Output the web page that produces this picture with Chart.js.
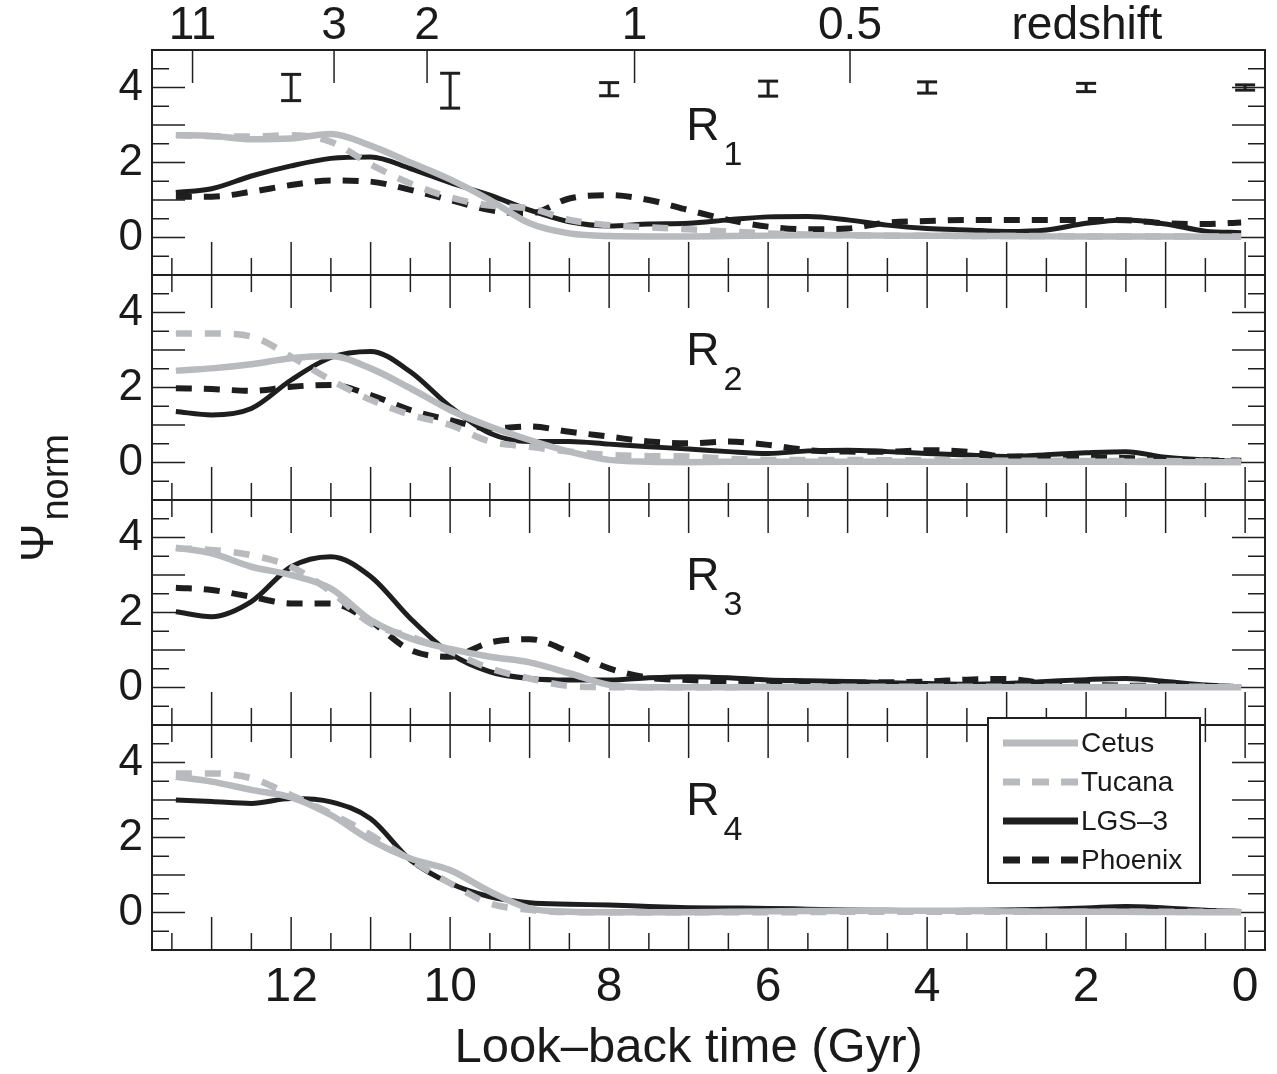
<!DOCTYPE html>
<html>
<head>
<meta charset="utf-8">
<script src="https://cdn.jsdelivr.net/npm/chart.js@4.4.1/dist/chart.umd.min.js"></script>
<style>
  html, body { margin: 0; padding: 0; background: #fff; }
  #wrap { width: 1277px; height: 1074px; }
</style>
</head>
<body>
<div id="wrap"><canvas id="sfh" width="1277" height="1074"></canvas></div>
<script>
// look-back time of each sample (Gyr)
var timeGyr = [13.45, 13, 12.5, 12, 11.5, 11, 10.5, 10, 9.5, 9, 8.5, 8, 7.5, 7,
               6.5, 6, 5.5, 5, 4.5, 4, 3.5, 3, 2.5, 2, 1.5, 1, 0.5, 0.05];

var seriesNames = ['Cetus', 'Tucana', 'LGS\u20133', 'Phoenix'];

// R1
var r1Cetus   = [2.73, 2.71, 2.62, 2.64, 2.76, 2.45, 2.0, 1.55, 1.0, 0.38, 0.11, 0.04, 0.03, 0.03, 0.04, 0.05, 0.06, 0.06, 0.05, 0.05, 0.04, 0.04, 0.03, 0.03, 0.03, 0.03, 0.02, 0.02];
var r1Tucana  = [2.73, 2.7, 2.69, 2.73, 2.55, 1.95, 1.44, 1.07, 0.85, 0.78, 0.47, 0.33, 0.27, 0.22, 0.16, 0.11, 0.08, 0.06, 0.05, 0.05, 0.04, 0.04, 0.04, 0.03, 0.03, 0.03, 0.03, 0.03];
var r1Lgs3    = [1.2, 1.3, 1.64, 1.91, 2.11, 2.15, 1.84, 1.46, 1.13, 0.73, 0.42, 0.31, 0.36, 0.38, 0.47, 0.55, 0.56, 0.47, 0.33, 0.24, 0.2, 0.16, 0.2, 0.38, 0.47, 0.36, 0.17, 0.13];
var r1Phoenix = [1.09, 1.09, 1.22, 1.4, 1.52, 1.49, 1.27, 1.0, 0.73, 0.64, 1.04, 1.13, 1.0, 0.73, 0.47, 0.29, 0.22, 0.24, 0.4, 0.44, 0.47, 0.47, 0.47, 0.47, 0.46, 0.38, 0.36, 0.4];
// R2
var r2Cetus   = [2.45, 2.51, 2.62, 2.78, 2.84, 2.51, 1.98, 1.4, 0.96, 0.6, 0.29, 0.07, 0.02, 0.01, 0.02, 0.02, 0.02, 0.02, 0.02, 0.02, 0.02, 0.02, 0.02, 0.02, 0.02, 0.01, 0.01, 0.01];
var r2Tucana  = [3.44, 3.44, 3.36, 2.82, 2.2, 1.67, 1.27, 1.0, 0.56, 0.42, 0.29, 0.2, 0.17, 0.16, 0.1, 0.07, 0.07, 0.07, 0.06, 0.06, 0.06, 0.05, 0.05, 0.04, 0.04, 0.04, 0.03, 0.03];
var r2Lgs3    = [1.36, 1.27, 1.44, 2.2, 2.8, 2.96, 2.42, 1.49, 0.78, 0.56, 0.56, 0.49, 0.42, 0.36, 0.29, 0.24, 0.31, 0.33, 0.29, 0.24, 0.2, 0.16, 0.21, 0.26, 0.29, 0.14, 0.07, 0.05];
var r2Phoenix = [1.98, 1.96, 1.91, 2.02, 2.07, 1.8, 1.4, 1.13, 0.91, 0.96, 0.82, 0.69, 0.56, 0.51, 0.56, 0.47, 0.33, 0.29, 0.29, 0.33, 0.29, 0.16, 0.16, 0.14, 0.12, 0.09, 0.06, 0.05];
// R3
var r3Cetus   = [3.73, 3.58, 3.22, 3.0, 2.64, 1.8, 1.31, 1.03, 0.82, 0.67, 0.38, 0.07, 0.01, 0.01, 0.01, 0.01, 0.01, 0.01, 0.01, 0.01, 0.01, 0.01, 0.01, 0.01, 0.01, 0.01, 0.01, 0.01];
var r3Tucana  = [3.71, 3.67, 3.53, 3.22, 2.56, 1.71, 1.36, 0.96, 0.51, 0.24, 0.04, 0.01, 0.01, 0.01, 0.01, 0.02, 0.02, 0.02, 0.02, 0.02, 0.02, 0.02, 0.02, 0.02, 0.02, 0.02, 0.02, 0.02];
var r3Lgs3    = [2.02, 1.89, 2.29, 3.22, 3.49, 2.96, 1.84, 0.91, 0.42, 0.24, 0.2, 0.2, 0.26, 0.29, 0.26, 0.2, 0.18, 0.16, 0.13, 0.11, 0.09, 0.11, 0.16, 0.21, 0.24, 0.16, 0.07, 0.02];
var r3Phoenix = [2.66, 2.6, 2.42, 2.24, 2.24, 1.76, 1.0, 0.82, 1.2, 1.29, 0.95, 0.51, 0.26, 0.2, 0.16, 0.14, 0.12, 0.13, 0.14, 0.16, 0.21, 0.23, 0.11, 0.07, 0.05, 0.04, 0.03, 0.02];
// R4 (no Phoenix curve)
var r4Cetus   = [3.62, 3.49, 3.27, 3.07, 2.6, 1.93, 1.44, 1.13, 0.56, 0.11, 0.02, 0.01, 0.01, 0.01, 0.02, 0.03, 0.04, 0.04, 0.05, 0.05, 0.04, 0.03, 0.02, 0.02, 0.02, 0.01, 0.01, 0.01];
var r4Tucana  = [3.71, 3.71, 3.58, 3.13, 2.64, 2.07, 1.4, 0.78, 0.24, 0.07, 0.01, 0.01, 0.01, 0.01, 0.01, 0.01, 0.01, 0.02, 0.02, 0.02, 0.02, 0.02, 0.02, 0.02, 0.02, 0.02, 0.02, 0.02];
var r4Lgs3    = [3.0, 2.96, 2.91, 3.04, 2.95, 2.5, 1.4, 0.78, 0.42, 0.26, 0.22, 0.2, 0.16, 0.13, 0.12, 0.11, 0.09, 0.07, 0.06, 0.05, 0.06, 0.07, 0.09, 0.12, 0.16, 0.12, 0.06, 0.03];

// typical error bars drawn at psi = 4 in the top panel
var errTime = [12, 10, 8, 6, 4, 2, 0];
var errHigh = [4.35, 4.38, 4.13, 4.17, 4.15, 4.11, 4.07];
var errLow  = [3.65, 3.45, 3.78, 3.77, 3.85, 3.89, 3.93];

// tick labels
var timeTickLabels = [12, 10, 8, 6, 4, 2, 0];
var psiTickLabels = [0, 2, 4];
var redshiftLabels = ['11', '3', '2', '1', '0.5'];
var redshiftTimes = [13.24, 11.46, 10.29, 7.68, 4.97];
var redshiftWordTime = 1.99;
var xTitle = 'Look\u2013back time (Gyr)';

var panelAxes = ['y1', 'y2', 'y3', 'y4'];
var panelSubs = ['1', '2', '3', '4'];
var panelSeries = [
  [r1Cetus, r1Tucana, r1Lgs3, r1Phoenix],
  [r2Cetus, r2Tucana, r2Lgs3, r2Phoenix],
  [r3Cetus, r3Tucana, r3Lgs3, r3Phoenix],
  [r4Cetus, r4Tucana, r4Lgs3, null]
];

var fontFamily = '"Liberation Sans", Arial, Helvetica, sans-serif';
var textColor = '#1a1a1a';
var frameColor = '#231f20';
var grey = '#b9babd';
var black = '#1e1e1e';

var seriesStyle = [
  { borderColor: grey,  borderWidth: 6.5, borderDash: [] },
  { borderColor: grey,  borderWidth: 6.5, borderDash: [16, 13] },
  { borderColor: black, borderWidth: 5,   borderDash: [] },
  { borderColor: black, borderWidth: 6,   borderDash: [16, 12] }
];
var legendDash = [[], [17, 12], [], [17, 12]];

Chart.defaults.font.family = fontFamily;
Chart.defaults.color = textColor;

var datasets = [];
panelSeries.forEach(function(list, p) {
  list.forEach(function(vals, i) {
    if (!vals) return;
    datasets.push({
      label: seriesNames[i] + ' R' + panelSubs[p],
      data: timeGyr.map(function(t, k) { return { x: t, y: vals[k] }; }),
      yAxisID: panelAxes[p],
      xAxisID: 'x',
      borderColor: seriesStyle[i].borderColor,
      borderWidth: seriesStyle[i].borderWidth,
      borderDash: seriesStyle[i].borderDash,
      borderCapStyle: 'butt',
      pointRadius: 0,
      fill: false,
      cubicInterpolationMode: 'monotone'
    });
  });
});

function panelAxis(weight) {
  return {
    type: 'linear',
    position: 'left',
    stack: 'panels',
    stackWeight: 1,
    weight: weight,
    min: -1,
    max: 5,
    afterBuildTicks: function(s) { s.ticks = psiTickLabels.map(function(v) { return { value: v }; }); },
    afterFit: function(s) { s.width = 152; },
    grid: { display: false, drawTicks: false },
    border: { display: false },
    ticks: { padding: 9, color: textColor, font: { size: 44, lineHeight: 1 } }
  };
}

function stroke(ctx, x1, y1, x2, y2) {
  ctx.beginPath();
  ctx.moveTo(x1, y1);
  ctx.lineTo(x2, y2);
  ctx.stroke();
}

// panel frames and inward ticks
var framePlugin = {
  id: 'frames',
  beforeDatasetsDraw: function(chart) {
    var ctx = chart.ctx, xs = chart.scales.x, area = chart.chartArea;
    ctx.save();
    ctx.strokeStyle = frameColor;
    panelAxes.forEach(function(id, p) {
      var ys = chart.scales[id];
      ctx.lineWidth = 1.5;
      for (var v = -0.5; v <= 4.5; v += 0.5) {
        var len = v % 1 === 0 ? 33 : 17;
        var py = ys.getPixelForValue(v);
        stroke(ctx, area.left, py, area.left + len, py);
        stroke(ctx, area.right - len, py, area.right, py);
      }
      for (var t = 0; t <= 13.5; t += 0.5) {
        var l2 = t % 1 === 0 ? 33 : 17;
        var px = xs.getPixelForValue(t);
        stroke(ctx, px, ys.bottom, px, ys.bottom - l2);
        if (p > 0) stroke(ctx, px, ys.top, px, ys.top + l2);
      }
      ctx.lineWidth = 2;
      ctx.strokeRect(area.left, ys.top, area.right - area.left, ys.bottom - ys.top);
    });
    ctx.lineWidth = 1.5;
    redshiftTimes.forEach(function(t) {
      var px = xs.getPixelForValue(t);
      stroke(ctx, px, area.top, px, area.top + 33);
    });
    ctx.restore();
  }
};

var annotatePlugin = {
  id: 'annotate',
  afterDatasetsDraw: function(chart) {
    var ctx = chart.ctx, xs = chart.scales.x, y1 = chart.scales.y1;
    ctx.save();
    // error bars
    ctx.strokeStyle = black;
    ctx.lineWidth = 3;
    errTime.forEach(function(t, i) {
      var px = xs.getPixelForValue(t);
      var top = y1.getPixelForValue(errHigh[i]);
      var bot = y1.getPixelForValue(errLow[i]);
      stroke(ctx, px, top, px, bot);
      stroke(ctx, px - 10, top, px + 10, top);
      stroke(ctx, px - 10, bot, px + 10, bot);
    });
    // panel names R1..R4
    ctx.fillStyle = textColor;
    ctx.textAlign = 'left';
    ctx.textBaseline = 'alphabetic';
    panelAxes.forEach(function(id, p) {
      var ys = chart.scales[id];
      var px = xs.getPixelForValue(7.03);
      var py = ys.getPixelForValue(2.6);
      ctx.font = '46px ' + fontFamily;
      ctx.fillText('R', px, py);
      var w = ctx.measureText('R').width;
      ctx.font = '34px ' + fontFamily;
      ctx.fillText(panelSubs[p], px + w + 4, py + 25);
    });
    ctx.restore();
  },
  afterDraw: function(chart) {
    var ctx = chart.ctx, xs = chart.scales.x;
    ctx.save();
    // x title, centred on the 0-14 Gyr span
    ctx.fillStyle = textColor;
    ctx.font = '49px ' + fontFamily;
    ctx.textAlign = 'center';
    ctx.textBaseline = 'alphabetic';
    ctx.fillText(xTitle, xs.getPixelForValue(7.0), 1062);

    // y title: psi with subscript "norm"
    ctx.translate(53, 562);
    ctx.rotate(-Math.PI / 2);
    ctx.textAlign = 'left';
    ctx.font = '46px ' + fontFamily;
    ctx.fillText('\u03A8', 0, 0);
    var w = ctx.measureText('\u03A8').width;
    ctx.font = '38px ' + fontFamily;
    ctx.fillText('norm', w + 3, 15);
    ctx.restore();

    // legend box
    var box = { left: 988, top: 718, width: 212, height: 165 };
    ctx.save();
    ctx.fillStyle = '#fff';
    ctx.fillRect(box.left, box.top, box.width, box.height);
    ctx.strokeStyle = frameColor;
    ctx.lineWidth = 2;
    ctx.strokeRect(box.left, box.top, box.width, box.height);
    ctx.font = '28px ' + fontFamily;
    ctx.textBaseline = 'middle';
    ctx.textAlign = 'left';
    seriesNames.forEach(function(name, i) {
      var y = box.top + 25 + i * 39;
      ctx.strokeStyle = seriesStyle[i].borderColor;
      ctx.lineWidth = 7;
      ctx.setLineDash(legendDash[i]);
      stroke(ctx, box.left + 15, y, box.left + 90, y);
      ctx.setLineDash([]);
      ctx.fillStyle = textColor;
      ctx.fillText(name, box.left + 93, y + 1);
    });
    ctx.restore();
  }
};

new Chart(document.getElementById('sfh'), {
  type: 'line',
  data: { datasets: datasets },
  options: {
    responsive: false,
    animation: false,
    devicePixelRatio: 1,
    layout: { padding: { left: 0, right: 12, top: 0, bottom: 0 } },
    plugins: { legend: { display: false }, tooltip: { enabled: false } },
    scales: {
      x: {
        type: 'linear',
        position: 'bottom',
        reverse: true,
        min: -0.25,
        max: 13.75,
        afterBuildTicks: function(s) { s.ticks = timeTickLabels.map(function(v) { return { value: v }; }); },
        afterFit: function(s) { s.height = 124; },
        grid: { display: false, drawTicks: false },
        border: { display: false },
        ticks: { padding: 9, autoSkip: false, maxRotation: 0, color: textColor, font: { size: 48 } }
      },
      xz: {
        type: 'linear',
        position: 'top',
        reverse: true,
        min: -0.25,
        max: 13.75,
        afterBuildTicks: function(s) {
          s.ticks = redshiftTimes.concat([redshiftWordTime]).map(function(v) { return { value: v }; });
        },
        afterFit: function(s) { s.height = 50; },
        grid: { display: false, drawTicks: false },
        border: { display: false },
        ticks: {
          padding: 1, autoSkip: false, maxRotation: 0, color: textColor,
          font: { size: 46, lineHeight: 1 },
          callback: function(v, i) { return redshiftLabels.concat(['redshift'])[i]; }
        }
      },
      y1: panelAxis(4),
      y2: panelAxis(3),
      y3: panelAxis(2),
      y4: panelAxis(1)
    }
  },
  plugins: [framePlugin, annotatePlugin]
});
</script>
</body>
</html>
